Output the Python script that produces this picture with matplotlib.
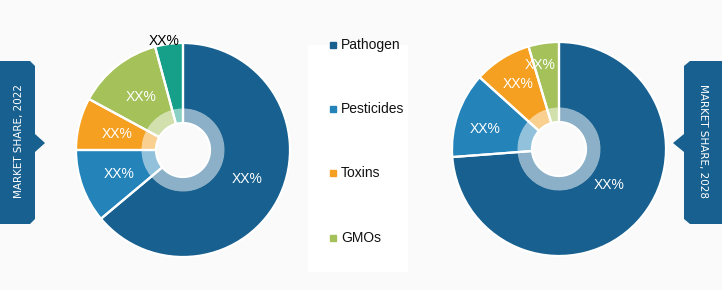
import matplotlib
matplotlib.use("Agg")
import matplotlib.pyplot as plt
from matplotlib.patches import Polygon, Rectangle
from matplotlib.colors import to_rgb

plt.rcParams['font.family'] = ['Liberation Sans', 'DejaVu Sans']

# data
categories = ["Pathogen", "Pesticides", "Toxins", "GMOs", "Others"]
share_2022 = [63.9, 11.1, 7.9, 12.9, 4.2]
share_2028 = [73.8, 12.9, 8.7, 4.6]
labels_2022 = ["XX%", "XX%", "XX%", "XX%", "XX%"]
labels_2028 = ["XX%", "XX%", "XX%", "XX%"]
colors = ["#17608f", "#2483b9", "#f5a021", "#a4c15a", "#16a08a"]
years = ["2022", "2028"]

W, H = 722, 290
bg = "#fafafa"


def lighten(c, a=0.5):
    r, g, b = to_rgb(c)
    return (r + (1 - r) * a, g + (1 - g) * a, b + (1 - b) * a)


def donut(ax, values, labels, center, label_pos, label_colors):
    cols = colors[:len(values)]
    # outer ring
    ax.pie(values, colors=cols, startangle=90, counterclock=False,
           center=center, radius=107, wedgeprops=dict(width=66, linewidth=0))
    # inner light ring
    ax.pie(values, colors=[lighten(c, 0.5) for c in cols], startangle=90,
           counterclock=False, center=center, radius=41.5,
           wedgeprops=dict(width=14.5, linewidth=0))
    # white separators
    ax.pie(values, colors=["none"] * len(values), startangle=90, counterclock=False,
           center=center, radius=107,
           wedgeprops=dict(width=80, facecolor="none", edgecolor="white", linewidth=1.6))
    for lab, (x, y), tc in zip(labels, label_pos, label_colors):
        ax.text(x, H - y, lab, color=tc, fontsize=10, ha="center", va="center")


fig = plt.figure(figsize=(W / 100, H / 100), dpi=100, facecolor=bg)
ax = fig.add_axes([0, 0, 1, 1])

# white panel behind legend
ax.add_patch(Rectangle((308, H - 272), 100, 227, facecolor="white", edgecolor="none", zorder=0))

donut(ax, share_2022, labels_2022, (183, H - 150),
      [(247, 179), (119, 174), (117, 134), (141, 97), (164, 41)],
      ["white", "white", "white", "white", "black"])
donut(ax, share_2028, labels_2028, (559, H - 149),
      [(609, 185), (485, 129), (518, 84), (540, 65)],
      ["white"] * 4)

# legend
leg_y = [45, 109, 173, 238]
for name, c, y in zip(categories[:4], colors[:4], leg_y):
    ax.plot(333, H - y, marker="s", ms=4.5, color=c, linestyle="none")
    ax.text(341, H - y, name, fontsize=10, va="center", ha="left", color="#111111")

# side tabs
tab_col = "#17608f"
left_tab = [(0, H - 61), (30, H - 61), (35, H - 66), (35, H - 134), (45, H - 143),
            (35, H - 152), (35, H - 219), (30, H - 224), (0, H - 224)]
right_tab = [(W, H - 61), (690, H - 61), (684, H - 66), (684, H - 134), (673, H - 143),
             (684, H - 152), (684, H - 219), (690, H - 224), (W, H - 224)]
ax.add_patch(Polygon(left_tab, closed=True, facecolor=tab_col, edgecolor="none"))
ax.add_patch(Polygon(right_tab, closed=True, facecolor=tab_col, edgecolor="none"))
ax.text(19, H - 141, "MARKET SHARE, " + years[0], rotation=90, color="white",
        fontsize=7.5, ha="center", va="center", family=['Liberation Sans Narrow', 'DejaVu Sans'])
ax.text(703, H - 141, "MARKET SHARE, " + years[1], rotation=270, color="white",
        fontsize=7.5, ha="center", va="center", family=['Liberation Sans Narrow', 'DejaVu Sans'])

ax.set_xlim(0, W)
ax.set_ylim(0, H)
ax.set_aspect("equal")
ax.axis("off")

fig.savefig("out.png", dpi=100, facecolor=bg)
